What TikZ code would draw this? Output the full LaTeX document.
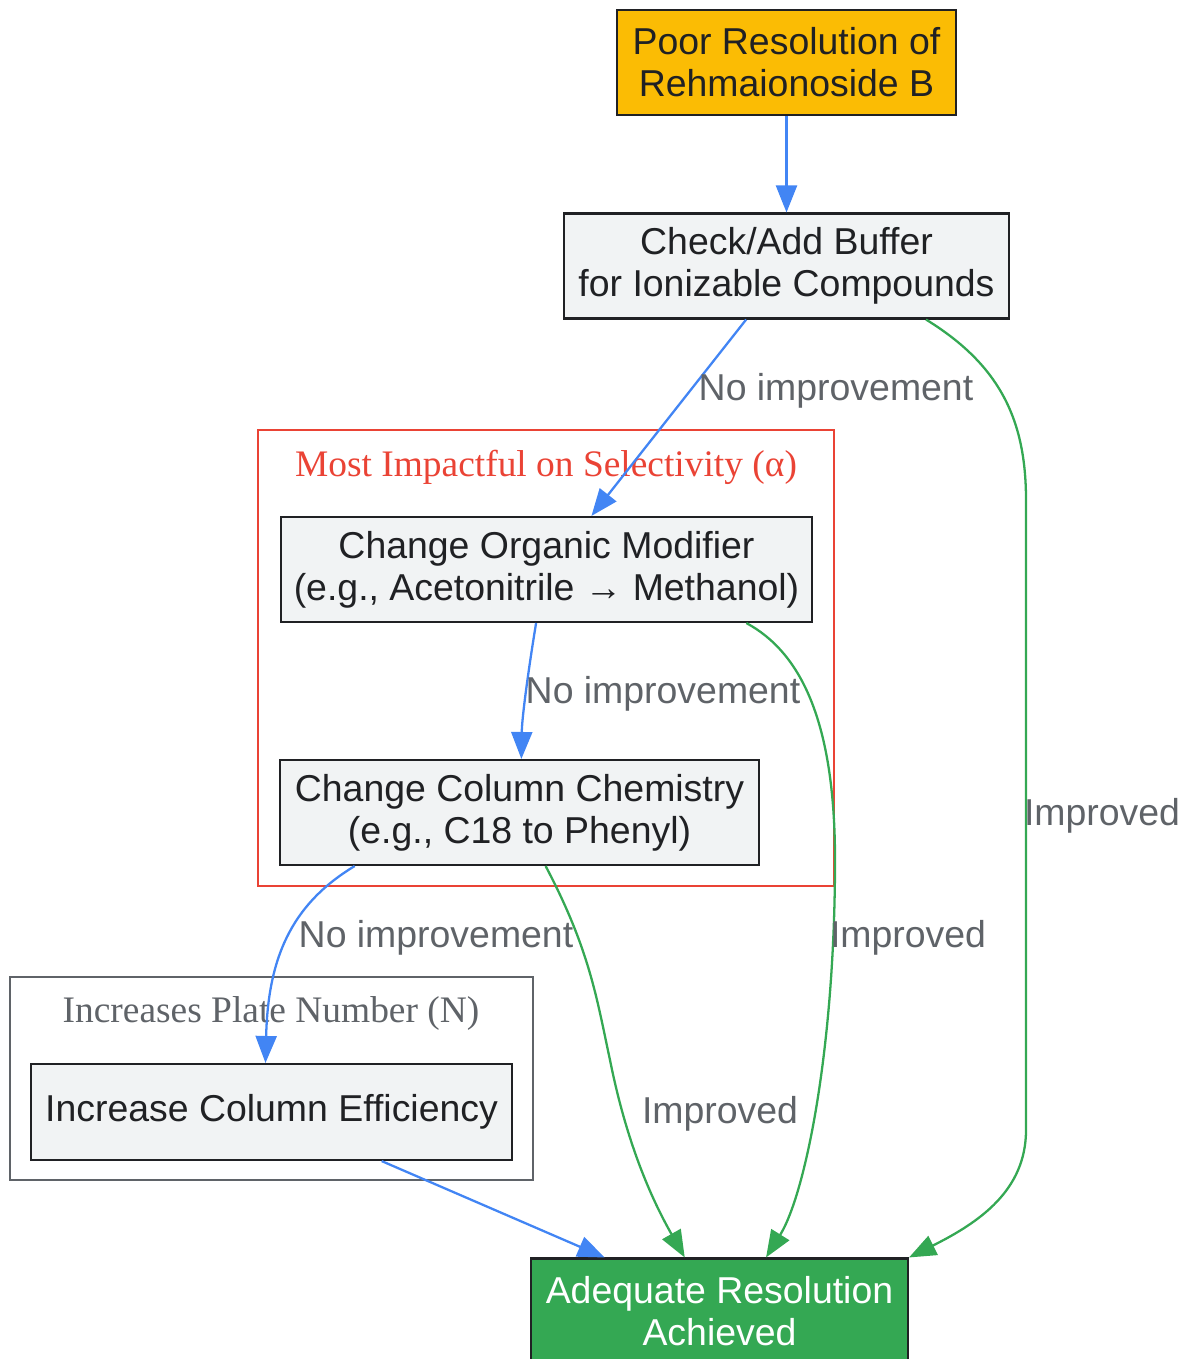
\documentclass[tikz,border=0pt]{standalone}
\usepackage{fontspec}
\setmainfont{Liberation Sans}
\newfontfamily\clusterfont{Liberation Serif}
\usetikzlibrary{arrows.meta}
\definecolor{gblue}{HTML}{4285F4}
\definecolor{ggreen}{HTML}{34A853}
\definecolor{gred}{HTML}{EA4335}
\definecolor{ggray}{HTML}{5F6368}
\definecolor{gyellow}{HTML}{FBBC04}
\definecolor{boxfill}{HTML}{F1F3F4}
\definecolor{boxtext}{HTML}{202124}

\begin{document}
\begin{tikzpicture}[x=0.02cm,y=-0.02cm,
    box/.style={draw=boxtext,line width=1.2pt,fill=boxfill,text=boxtext,align=center,
      inner sep=0pt,minimum height=2.1cm,font=\fontsize{21.3}{23.8}\selectfont},
    flow/.style={line width=1.3pt,-{Triangle[length=0.54cm,width=0.42cm]}},
    noimp/.style={flow,draw=gblue},
    imp/.style={flow,draw=ggreen},
    lbl/.style={text=ggray,inner sep=0pt,font=\fontsize{21.3}{23.8}\selectfont},
    clabel/.style={inner sep=0pt,font=\clusterfont\fontsize{21.3}{23.8}\selectfont}]
  \useasboundingbox (0,0) rectangle (1181,1359);

  % clusters
  \draw[gred,line width=1.2pt] (258,430) rectangle (834,886);
  \node[clabel,text=gred] (selhead) at (546,467) {Most Impactful on Selectivity (α)};
  \draw[ggray,line width=1.2pt] (10,977) rectangle (533,1180);
  \node[clabel,text=ggray] (platehead) at (271,1013) {Increases Plate Number (N)};

  % steps
  \node[box,fill=gyellow,minimum width=6.78cm] (poor) at (786.5,62.5) {Poor Resolution of\\Rehmaionoside B};
  \node[box,minimum width=8.9cm] (buffer) at (786.5,266) {Check/Add Buffer\\for Ionizable Compounds};
  \node[box,minimum width=10.62cm] (organic) at (546.5,569.5) {Change Organic Modifier\\(e.g., Acetonitrile → Methanol)};
  \node[box,minimum width=9.58cm] (column) at (519.5,812.5) {Change Column Chemistry\\(e.g., C18 to Phenyl)};
  \node[box,minimum width=9.62cm,minimum height=1.92cm] (effic) at (271.5,1112) {Increase Column Efficiency};
  \node[box,fill=ggreen,text=white,minimum width=7.54cm] (adequate) at (719.5,1311) {Adequate Resolution\\Achieved};

  % connectors
  \draw[noimp] (poor.south) -- (buffer.north);
  \draw[noimp] (buffer.-127.5) -- (organic.50);
  \draw[imp] (buffer.-21) .. controls (1000,365) and (1026,420) .. (1026,500)
    -- (1026,1130) .. controls (1026,1190) and (980,1222) .. (adequate.north east);
  \draw[noimp] (organic.-101) .. controls (530,660) and (522,715) .. (column.88);
  \draw[imp] (organic.-15) .. controls (800,652) and (835,720) .. (835,860)
    .. controls (835,1050) and (805,1195) .. (adequate.49);
  \draw[noimp] (column.-162) .. controls (290,905) and (268,960) .. (effic.97);
  \draw[imp] (column.-64.5) .. controls (590,950) and (597,1000) .. (610,1060)
    .. controls (628,1150) and (655,1205) .. (adequate.123.8);
  \draw[noimp] (effic.-24.3) -- (adequate.155.9);

  % connector labels
  \node[lbl] (nbuffer) at (836,391) {No improvement};
  \node[lbl] (ybuffer) at (1102,816) {Improved};
  \node[lbl] (norganic) at (663,694) {No improvement};
  \node[lbl] (yorganic) at (908,938) {Improved};
  \node[lbl] (ncolumn) at (436,938) {No improvement};
  \node[lbl] (ycolumn) at (720,1114) {Improved};
\end{tikzpicture}
\end{document}
